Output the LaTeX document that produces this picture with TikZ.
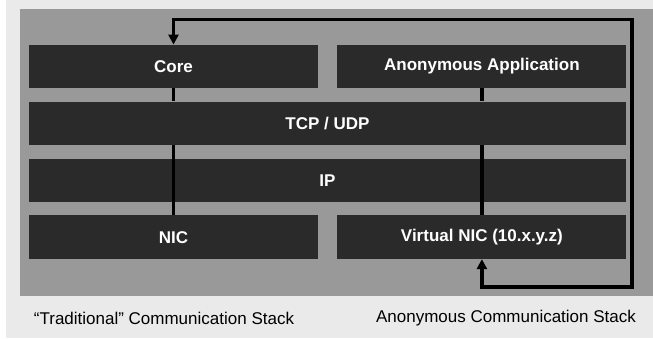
\documentclass[tikz,border=0pt]{standalone}
\usepackage{fontspec}
\setmainfont{Liberation Sans}
\usepackage{tikz}
\usetikzlibrary{arrows.meta,positioning}
\definecolor{paneltone}{HTML}{EAEAEA}
\definecolor{frametone}{HTML}{999999}
\definecolor{layertone}{HTML}{2A2A2A}

\begin{document}
\begin{tikzpicture}[
      x=1pt, y=-1pt,
      node distance = 13pt and 19pt,
      layer/.style  = {fill=layertone, text=white, minimum width=289pt,
                       minimum height=43.5pt, inner sep=0pt,
                       font=\fontsize{17}{20}\selectfont\bfseries},
      wide/.style   = {layer, minimum width=597pt},
      link/.style   = {line width=3.5pt, black},
      loopback/.style = {{Triangle[width=10pt,length=10pt]}-{Triangle[width=10pt,length=10pt]},
                       line width=3.5pt, black},
      caption/.style = {font=\fontsize{17}{20}\selectfont, inner sep=0pt},
    ]
    \useasboundingbox (0,0) rectangle (653,339);

    % ---- backdrop ----
    \fill[paneltone] (6,0) rectangle (653,338);
    \fill[frametone] (20,9) rectangle (653,296);

    % ---- top row ----
    \node[layer] (core) at (173.5,66.5) {Core};
    \node[layer, right=of core] (anonapp) {Anonymous Application};

    % ---- shared layers ----
    \node[wide, below=of core.south west, anchor=north west] (tcp) {TCP / UDP};
    \node[wide, below=of tcp] (ip) {IP};

    % ---- bottom row ----
    \node[layer, below=of ip.south west, anchor=north west] (nic) {NIC};
    \node[layer, right=of nic] (vnic) {Virtual NIC (10.x.y.z)};

    % vertical stacks
    \draw[link] (core.south) -- (core.south |- tcp.north);
    \draw[link] (tcp.south -| nic.north) -- (nic.north);
    \draw[link] (anonapp.south) -- (anonapp.south |- tcp.north);
    \draw[link] (tcp.south -| vnic.north) -- (vnic.north);

    % loop from virtual NIC back to core
    \coordinate (looptop) at (632,19.5);
    \coordinate (loopbot) at (632,287);
    \draw[loopback] (core.north) |- (looptop) -- (loopbot) -| (vnic.south);

    % captions
    \node[caption] (tradcap) at (164,318) {“Traditional” Communication Stack};
    \node[caption] (anoncap) at (506,318) {Anonymous Communication Stack};
\end{tikzpicture}
\end{document}
